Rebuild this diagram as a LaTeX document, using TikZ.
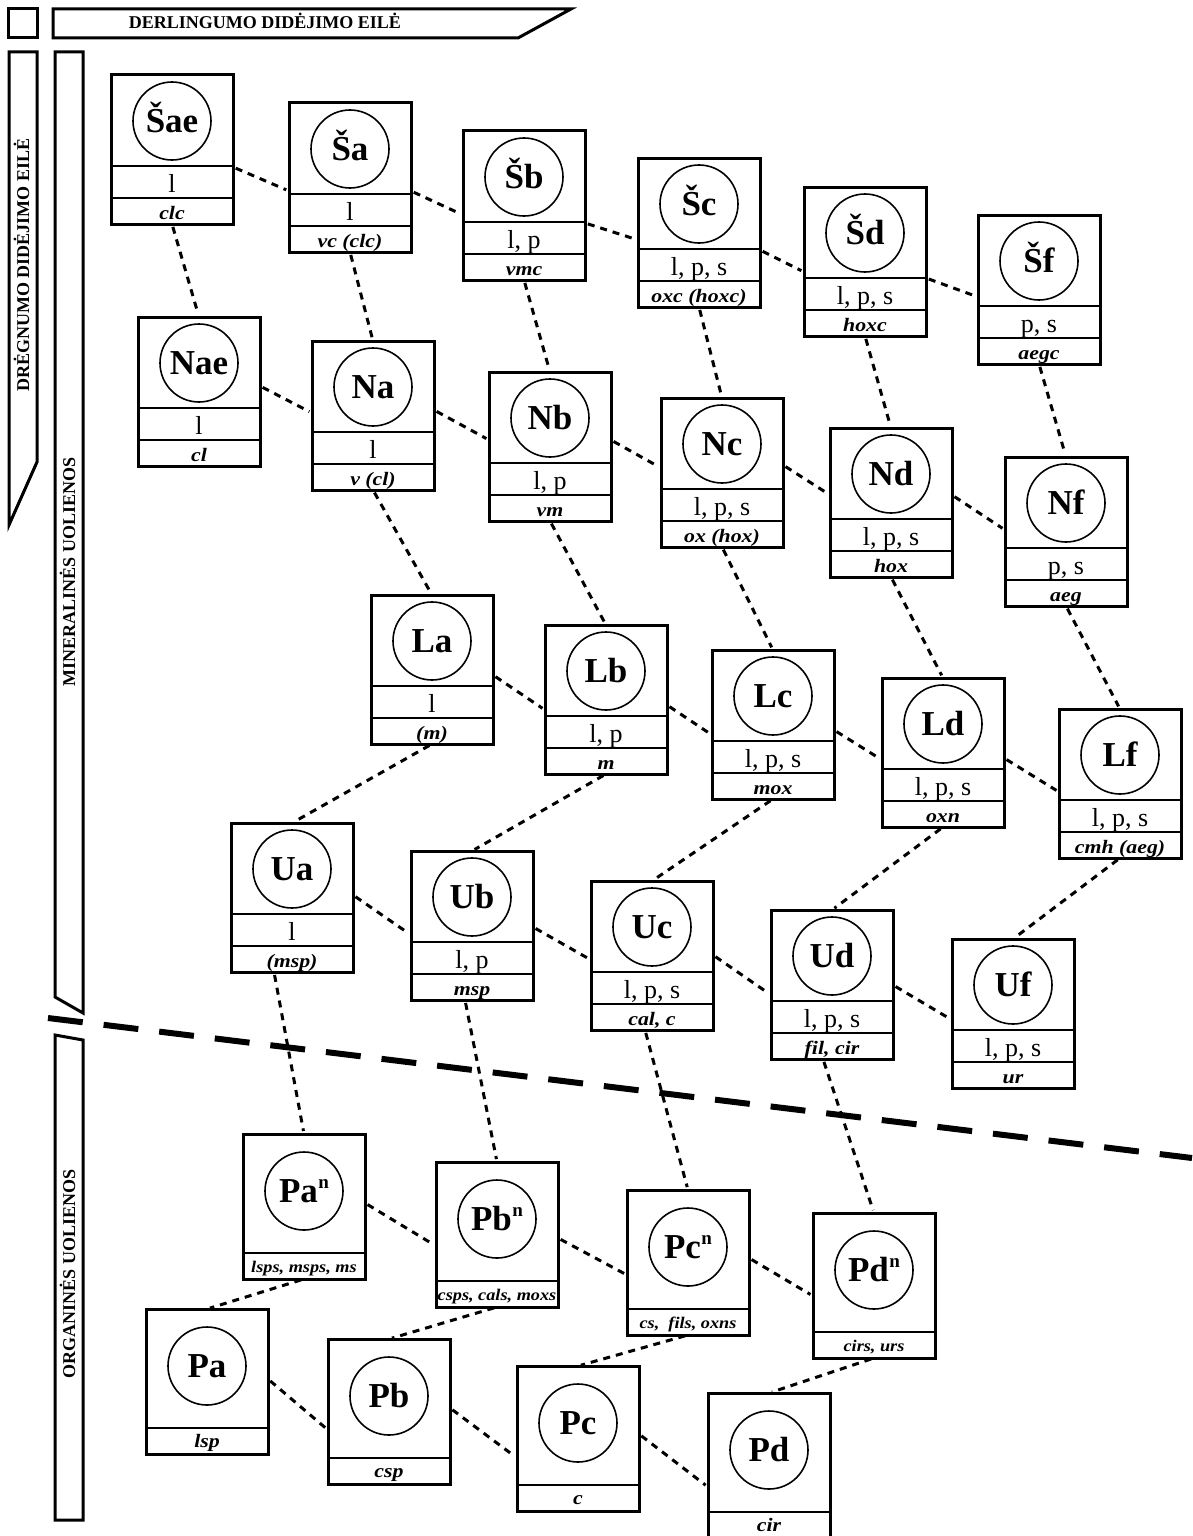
\documentclass[tikz,border=0pt]{standalone}
\usepackage{fontspec}
\setmainfont{Liberation Serif}
\usepackage{graphicx}
\usetikzlibrary{calc}
\tikzset{
 rbox/.style={draw, line width=3pt, minimum width=122pt, inner sep=0pt, outer sep=0pt},
 rcirc/.style={draw, circle, line width=1.6pt, minimum size=78pt, inner sep=0pt},
 divl/.style={line width=1.8pt},
 lab/.style={anchor=base, font=\bfseries\fontsize{35}{35}\selectfont, inner sep=0pt},
 midt/.style={anchor=base, font=\fontsize{26}{26}\selectfont, inner sep=0pt},
 bott/.style={anchor=base, inner sep=0pt},
 conn/.style={line width=3pt, dash pattern=on 7pt off 6pt, shorten <=3pt, shorten >=3pt},
 sepline/.style={line width=6pt, dash pattern=on 35pt off 21pt},
 bar/.style={line width=3pt, line join=miter},
 bartext/.style={font=\bfseries\fontsize{18}{18}\selectfont, inner sep=0pt, anchor=base},
}
\newcommand\btxt[1]{\scalebox{1.15}[1]{\bfseries\itshape\fontsize{19}{19}\selectfont #1}}
\newcommand\btxts[1]{\scalebox{1.12}[1]{\bfseries\itshape\fontsize{16.3}{16}\selectfont #1}}
\newcommand\nsup{\kern0.5pt\raisebox{14pt}{\bfseries\fontsize{19}{19}\selectfont n}}
\newcommand\rock[6]{%
 \node[rbox, minimum height=149pt] (#1) at (#2+61,#3+74.5) {};
 \node[rcirc] (#1c) at (#2+61,#3+46) {};
 \node[lab] (#1l) at (#2+61,#3+57.5) {#4};
 \draw[divl] (#2,#3+91) -- (#2+122,#3+91);
 \draw[divl] (#2,#3+123) -- (#2+122,#3+123);
 \node[midt] (#1m) at (#2+61,#3+117) {#5};
 \node[bott] (#1b) at (#2+61,#3+144) {\btxt{#6}};
}
\newcommand\prock[5]{%
 \node[rbox, minimum height=145pt] (#1) at (#2+61,#3+72.5) {};
 \node[rcirc] (#1c) at (#2+61,#3+57) {};
 \node[lab] (#1l) at (#2+61,#3+68.5) {#4};
 \draw[divl] (#2,#3+119) -- (#2+122,#3+119);
 \node[bott] (#1b) at (#2+61,#3+138) {#5};
}
\newcommand\hconn[4]{\draw[conn] ($(#1.north east)+(0,#2)$) -- ($(#3.north west)+(0,#4)$);}
\newcommand\vconn[2]{\draw[conn] (#1.south) -- (#2.north);}
\newcommand\uconn[3]{\draw[conn] ($(#1.south)+(#2,0)$) -- (#3.north);}
\begin{document}
\begin{tikzpicture}[x=1pt,y=-1pt]
\useasboundingbox (0,0) rectangle (1192,1536);
% side bars and banner
\draw[bar] (8,9) rectangle (37,38);
\draw[bar] (53,9) -- (571,9) -- (518,38) -- (53,38) -- cycle;
\node[bartext] (ht) at (265,29) {DERLINGUMO DIDĖJIMO EILĖ};
\draw[bar] (9,52) -- (37,52) -- (37,462) -- (9,525) -- cycle;
\node[bartext, rotate=90] (v1) at (29,265) {DRĖGNUMO DIDĖJIMO EILĖ};
\draw[bar] (55,52) -- (83,52) -- (83,1013) -- (55,997) -- cycle;
\node[bartext, rotate=90] (v2) at (75,572) {MINERALINĖS UOLIENOS};
\draw[bar] (55,1035) -- (83,1040) -- (83,1520) -- (55,1520) -- cycle;
\node[bartext, rotate=90] (v3) at (75,1274) {ORGANINĖS UOLIENOS};
% separator
\coordinate (sepA) at (48,1018);
\coordinate (sepB) at (1192,1158);
\draw[sepline] (sepA) -- (sepB);
% boxes
\rock{Sae}{111}{75}{Šae}{l}{clc}
\rock{Sa}{289}{103}{Ša}{l}{vc (clc)}
\rock{Sb}{463}{131}{Šb}{l, p}{vmc}
\rock{Sc}{638}{158}{Šc}{l, p, s}{oxc (hoxc)}
\rock{Sd}{804}{187}{Šd}{l, p, s}{hoxc}
\rock{Sf}{978}{215}{Šf}{p, s}{aegc}
\rock{Nae}{138}{317}{Nae}{l}{cl}
\rock{Na}{312}{341}{Na}{l}{v (cl)}
\rock{Nb}{489}{372}{Nb}{l, p}{vm}
\rock{Nc}{661}{398}{Nc}{l, p, s}{ox (hox)}
\rock{Nd}{830}{428}{Nd}{l, p, s}{hox}
\rock{Nf}{1005}{457}{Nf}{p, s}{aeg}
\rock{La}{371}{595}{La}{l}{(m)}
\rock{Lb}{545}{625}{Lb}{l, p}{m}
\rock{Lc}{712}{650}{Lc}{l, p, s}{mox}
\rock{Ld}{882}{678}{Ld}{l, p, s}{oxn}
\rock{Lf}{1059}{709}{Lf}{l, p, s}{cmh (aeg)}
\rock{Ua}{231}{823}{Ua}{l}{(msp)}
\rock{Ub}{411}{851}{Ub}{l, p}{msp}
\rock{Uc}{591}{881}{Uc}{l, p, s}{cal, c}
\rock{Ud}{771}{910}{Ud}{l, p, s}{fil, cir}
\rock{Uf}{952}{939}{Uf}{l, p, s}{ur}
\prock{Pan}{243}{1134}{Pa\nsup}{\btxts{lsps, msps, ms}}
\prock{Pbn}{436}{1162}{Pb\nsup}{\btxts{csps, cals, moxs}}
\prock{Pcn}{627}{1190}{Pc\nsup}{\btxts{cs,\ \ fils, oxns}}
\prock{Pdn}{813}{1213}{Pd\nsup}{\btxts{cirs, urs}}
\prock{Pa}{146}{1309}{Pa}{\btxt{lsp}}
\prock{Pb}{328}{1339}{Pb}{\btxt{csp}}
\prock{Pc}{517}{1366}{Pc}{\btxt{c}}
\prock{Pd}{708}{1393}{Pd}{\btxt{cir}}
% row connectors
\hconn{Sae}{92}{Sa}{88}
\hconn{Sa}{88}{Sb}{84}
\hconn{Sb}{92}{Sc}{82}
\hconn{Sc}{92}{Sd}{85}
\hconn{Sd}{91}{Sf}{82}
\hconn{Nae}{69}{Na}{72}
\hconn{Na}{69}{Nb}{68}
\hconn{Nb}{68}{Nc}{70}
\hconn{Nc}{67}{Nd}{67}
\hconn{Nd}{67}{Nf}{73}
\hconn{La}{80}{Lb}{85}
\hconn{Lb}{80}{Lc}{85}
\hconn{Lc}{80}{Ld}{82}
\hconn{Ld}{80}{Lf}{83}
\hconn{Ua}{72}{Ub}{84}
\hconn{Ub}{76}{Uc}{79}
\hconn{Uc}{74}{Ud}{85}
\hconn{Ud}{75}{Uf}{81}
\hconn{Pan}{69}{Pbn}{84}
\hconn{Pbn}{76}{Pcn}{85}
\hconn{Pcn}{68}{Pdn}{83}
\hconn{Pa}{70}{Pb}{91}
\hconn{Pb}{69}{Pc}{92}
\hconn{Pc}{68}{Pd}{94}
% column connectors
\vconn{Sae}{Nae}
\vconn{Sa}{Na}
\vconn{Sb}{Nb}
\vconn{Sc}{Nc}
\vconn{Sd}{Nd}
\vconn{Sf}{Nf}
\vconn{Na}{La}
\vconn{Nb}{Lb}
\vconn{Nc}{Lc}
\vconn{Nd}{Ld}
\vconn{Nf}{Lf}
\vconn{La}{Ua}
\vconn{Lb}{Ub}
\vconn{Lc}{Uc}
\vconn{Ld}{Ud}
\vconn{Lf}{Uf}
\uconn{Ua}{-18}{Pan}
\uconn{Ub}{-7}{Pbn}
\uconn{Uc}{-7}{Pcn}
\uconn{Ud}{-9}{Pdn}
\vconn{Pan}{Pa}
\vconn{Pbn}{Pb}
\vconn{Pcn}{Pc}
\vconn{Pdn}{Pd}
\end{tikzpicture}
\end{document}
